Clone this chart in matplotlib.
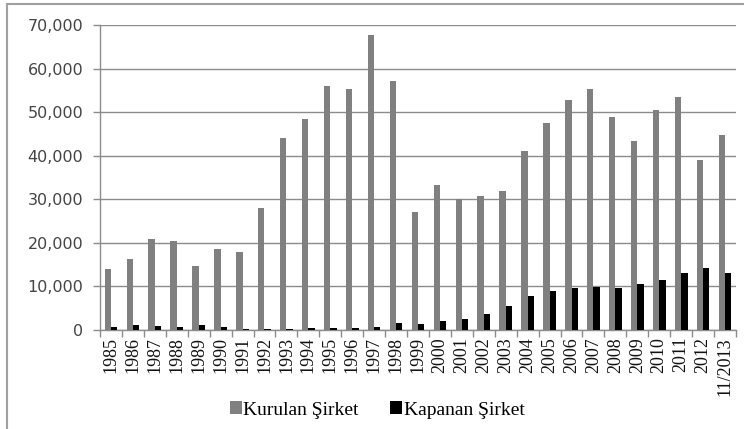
import matplotlib
matplotlib.use("Agg")
import matplotlib.pyplot as plt
from matplotlib.patches import Rectangle
from matplotlib.ticker import FuncFormatter, FixedLocator
import numpy as np

years = ["1985", "1986", "1987", "1988", "1989", "1990", "1991", "1992", "1993", "1994",
         "1995", "1996", "1997", "1998", "1999", "2000", "2001", "2002", "2003", "2004",
         "2005", "2006", "2007", "2008", "2009", "2010", "2011", "2012", "11/2013"]
kurulan = [14000, 16200, 21000, 20500, 14800, 18500, 18000, 28000, 44000, 48500,
           56000, 55300, 67800, 57200, 27000, 33300, 30000, 30800, 32000, 41000,
           47500, 52700, 55300, 49000, 43300, 50500, 53400, 39000, 44700]
kapanan = [800, 1100, 900, 800, 1100, 600, 300, 200, 200, 500,
           500, 500, 800, 1700, 1450, 1990, 2520, 3600, 5580, 7720,
           8870, 9630, 9940, 9630, 10480, 11550, 13150, 14300, 13150]
series_names = ["Kurulan Şirket", "Kapanan Şirket"]
yticks = [0, 10000, 20000, 30000, 40000, 50000, 60000, 70000]

fig = plt.figure(figsize=(7.44, 4.29), dpi=100)
ax = fig.add_axes([100/744, 1-330/429, 636/744, 305/429])

x = np.arange(len(years))
w = 0.29
ax.bar(x - w/2, kurulan, width=w, color="#808080", label=series_names[0], zorder=3)
ax.bar(x + w/2, kapanan, width=w, color="#000000", label=series_names[1], zorder=3)

ax.set_xlim(-0.5, len(years) - 0.5)
ax.set_ylim(0, 70000)
ax.set_yticks(yticks)
ax.yaxis.set_major_formatter(FuncFormatter(lambda v, p: f"{int(v):,}"))
ax.grid(axis="y", color="#8c8c8c", linewidth=1.0, zorder=0)

ax.set_xticks(x)
ax.set_xticklabels(years, rotation=90, family="Liberation Serif", fontsize=13, color="#111111")
ax.tick_params(axis="x", which="major", length=0, pad=5)
ax.xaxis.set_minor_locator(FixedLocator(np.arange(-0.5, len(years), 1.0)))
ax.tick_params(axis="x", which="minor", length=5, color="#8c8c8c", width=1)
ax.tick_params(axis="y", length=5, color="#8c8c8c", width=1, pad=7, labelsize=11.5, labelcolor="#444444")

for s in ["top", "right"]:
    ax.spines[s].set_visible(False)
for s in ["left", "bottom"]:
    ax.spines[s].set_color("#8c8c8c")
    ax.spines[s].set_linewidth(1.0)

leg = fig.legend(loc="center", bbox_to_anchor=(0.507, 1-410/429), ncol=2, frameon=False,
                 prop={"family": "Liberation Serif", "size": 14},
                 handlelength=0.6, handleheight=0.6, handletextpad=0.1, columnspacing=1.6)

fig.patches.append(Rectangle((7/744, -0.1), 1.2, 1 - 3.5/429 + 0.1, transform=fig.transFigure,
                             fill=False, edgecolor="#a0a0a0", linewidth=1.5))

fig.savefig("out.png", dpi=100)
